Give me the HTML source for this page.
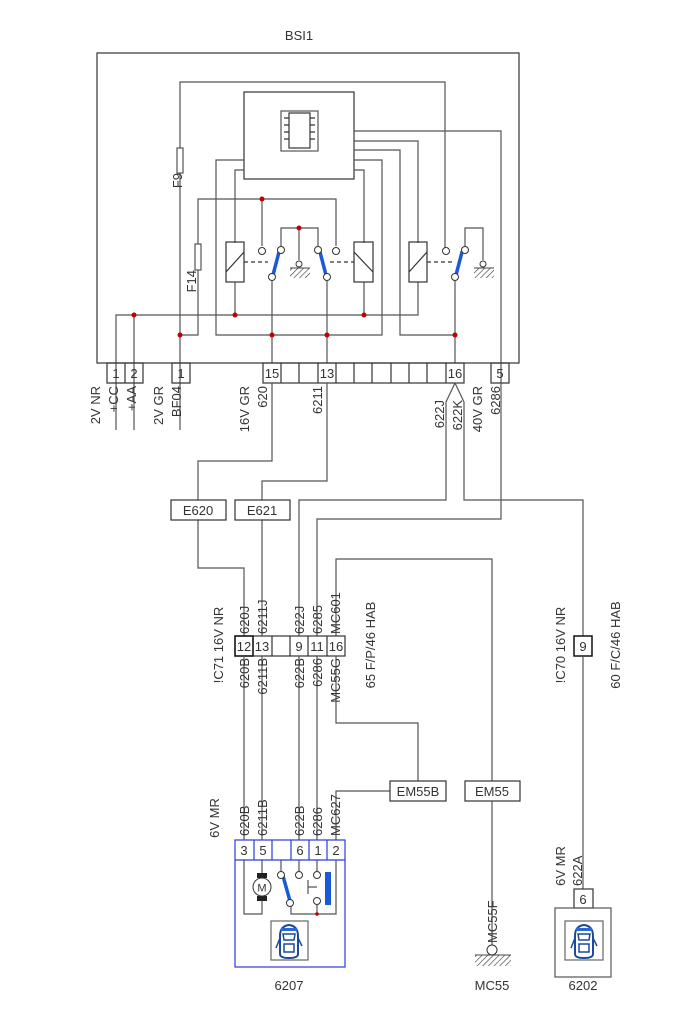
<!DOCTYPE html>
<html><head><meta charset="utf-8"><style>
html,body{margin:0;padding:0;background:#fff}
svg{display:block}
text{font-family:"Liberation Sans",sans-serif;font-size:13px;fill:#333}
</style></head><body>
<svg width="700" height="1020" viewBox="0 0 700 1020" xmlns="http://www.w3.org/2000/svg">
<defs>
<pattern id="h" width="4" height="4" patternUnits="userSpaceOnUse" patternTransform="rotate(45)">
<line x1="0" y1="0" x2="0" y2="4" stroke="#333" stroke-width="1.2"/></pattern>
<g id="car">
<path d="M-9,14 L-9,-4 Q-9,-14 0,-15 Q9,-14 9,-4 L9,14 Q9,18 0,18 Q-9,18 -9,14 Z" fill="#fff" stroke="#1a4a9a" stroke-width="2"/>
<path d="M-6,-6 L6,-6 L5,0 L-5,0 Z M-5,4 L5,4 L5,12 L-5,12 Z" fill="none" stroke="#1a4a9a" stroke-width="1.5"/>
<path d="M-9,-2 L-13,8 M9,-2 L13,6" stroke="#1a4a9a" stroke-width="1.5"/>
<rect x="-8" y="-12" width="16" height="3" fill="#2a6ad0"/>
</g>
</defs>
<g fill="none" stroke="#555" stroke-width="1.2">
<rect x="97" y="53" width="422" height="310" stroke="#333"/>
<rect x="244" y="92" width="110" height="87" stroke="#333"/>
<rect x="281" y="111" width="37" height="40" stroke="#555"/>
<rect x="289" y="113" width="21" height="35" stroke="#333"/>
<path d="M284,118h5M284,125h5M284,132h5M284,139h5M310,118h5M310,125h5M310,132h5M310,139h5" stroke="#333"/>
<path d="M180,430V82H445V250"/>
<rect x="177" y="148" width="6" height="25" fill="#fff"/>
<path d="M354,131H501V383"/>
<path d="M354,141H418V243M418,282V315H116V430M134,315V430"/>
<path d="M354,150H400V335H455"/>
<path d="M244,160H216V335H382V160H354"/>
<path d="M244,170H235V243M235,282V315"/>
<path d="M354,170H364V243M364,282V315"/>
<path d="M180,335H198V199H336V246M262,199V246"/>
<rect x="195" y="244" width="6" height="26" fill="#fff"/>
<rect x="226" y="242" width="18" height="40" stroke="#333"/><path d="M226,272L244,252" stroke="#333"/>
<rect x="354" y="242" width="19" height="40" stroke="#333"/><path d="M354,252L373,272" stroke="#333"/>
<rect x="409" y="242" width="18" height="40" stroke="#333"/><path d="M409,272L427,252" stroke="#333"/>
<path d="M244,262H268M330,262H354M427,262H452" stroke-dasharray="4,3" stroke="#333"/>
<path d="M281,246V228H318V246M299,228V260"/>
<path d="M272,281V363M327,281V363M455,281V363"/>
<path d="M465,246V228H483V260"/>
<path d="M107,363h18v20h-18zM125,363h18v20h-18zM172,363h18v20h-18zM491,363h18v20h-18z" stroke="#333"/>
<rect x="263" y="363" width="201" height="20" stroke="#333"/>
<path d="M281,363v20M299,363v20M318,363v20M336,363v20M354,363v20M372,363v20M391,363v20M409,363v20M427,363v20M446,363v20" stroke="#333"/>
<path d="M272,383V461H198V568H244V636"/>
<path d="M327,383V481H262V636"/>
<path d="M455,383L446,402V500H299V636M455,383L464,402V500H583V636"/>
<path d="M501,383V519H317V636"/>
<path d="M336,636V559H492V781"/>
<rect x="171" y="500" width="55" height="20" fill="#fff" stroke="#333"/>
<rect x="235" y="500" width="55" height="20" fill="#fff" stroke="#333"/>
<rect x="235" y="636" width="110" height="20" stroke="#333"/>
<path d="M253,636v20M272,636v20M290,636v20M308,636v20M327,636v20" stroke="#333"/>
<rect x="235" y="636" width="18" height="20" stroke="#111" stroke-width="1.5"/>
<path d="M244,656V840M262,656V840M299,656V840M317,656V840"/>
<path d="M336,656V723H418V781"/>
<path d="M336,840V791H390"/>
<rect x="390" y="781" width="56" height="20" stroke="#333"/>
<rect x="465" y="781" width="55" height="20" stroke="#333"/>
<path d="M492,801V945"/>
<rect x="574" y="636" width="18" height="20" stroke="#111" stroke-width="1.5"/>
<path d="M583,656V889"/>
<path d="M244,860V914H262V860M281,860V871M299,860V871M317,860V871M336,860V914H291V906M317,914V905"/>
<path d="M308,887H317M308,880V894"/>
<rect x="271" y="921" width="37" height="39" stroke="#666"/>
<rect x="574" y="889" width="19" height="19" stroke="#333"/>
<rect x="555" y="908" width="56" height="69" stroke="#555"/>
<rect x="565" y="921" width="38" height="39" stroke="#666"/>
</g>
<g fill="none" stroke="#2a3ae0" stroke-width="1.2">
<rect x="235" y="840" width="110" height="127"/>
<path d="M235,860H345M254,840v20M272,840v20M291,840v20M309,840v20M327,840v20"/>
</g>
<rect x="290" y="268" width="20" height="10" fill="url(#h)"/><path d="M290,268H310" stroke="#444"/>
<rect x="474" y="268" width="20" height="10" fill="url(#h)"/><path d="M474,268H494" stroke="#444"/>
<rect x="475" y="955" width="36" height="11" fill="url(#h)"/><path d="M475,955H511" stroke="#444"/>
<g stroke="#1a5ad8" stroke-width="3.5" stroke-linecap="round">
<path d="M273,275L279,252M326,275L320,252M456,275L462,252M283,876L290,901"/>
</g>
<rect x="325" y="872" width="6" height="33" fill="#1a5ad8"/>
<rect x="257" y="873" width="10" height="5" fill="#222"/><rect x="257" y="896" width="10" height="5" fill="#222"/>
<circle cx="262" cy="887" r="9" fill="#fff" stroke="#333"/>
<text x="262" y="891.5" text-anchor="middle" style="font-size:11px">M</text>
<g fill="#fff" stroke="#333" stroke-width="1">
<circle cx="262" cy="251" r="3.5"/><circle cx="281" cy="250" r="3.5"/><circle cx="272" cy="277" r="3.5"/>
<circle cx="299" cy="264" r="3"/><circle cx="318" cy="250" r="3.5"/><circle cx="327" cy="277" r="3.5"/>
<circle cx="336" cy="251" r="3.5"/><circle cx="446" cy="251" r="3.5"/><circle cx="455" cy="277" r="3.5"/>
<circle cx="465" cy="250" r="3.5"/><circle cx="483" cy="264" r="3"/>
<circle cx="281" cy="875" r="3.5"/><circle cx="290" cy="903" r="3.5"/><circle cx="299" cy="875" r="3.5"/>
<circle cx="317" cy="875" r="3.5"/><circle cx="317" cy="901" r="3.5"/>
<circle cx="492" cy="950" r="5"/>
</g>
<g fill="#c00000">
<circle cx="262" cy="199" r="2.5"/><circle cx="299" cy="228" r="2.5"/>
<circle cx="134" cy="315" r="2.5"/><circle cx="235" cy="315" r="2.5"/><circle cx="364" cy="315" r="2.5"/>
<circle cx="180" cy="335" r="2.5"/><circle cx="272" cy="335" r="2.5"/><circle cx="327" cy="335" r="2.5"/><circle cx="455" cy="335" r="2.5"/>
<circle cx="317" cy="914" r="1.8"/>
</g>
<use href="#car" x="289" y="940"/>
<use href="#car" x="584" y="940"/>
<text x="299" y="40" text-anchor="middle">BSI1</text>
<g text-anchor="middle">
<text x="116" y="378">1</text><text x="134" y="378">2</text><text x="181" y="378">1</text>
<text x="272" y="378">15</text><text x="327" y="378">13</text><text x="455" y="378">16</text><text x="500" y="378">5</text>
<text x="198" y="515">E620</text><text x="262" y="515">E621</text>
<text x="244" y="651">12</text><text x="262" y="651">13</text><text x="299" y="651">9</text><text x="317" y="651">11</text><text x="336" y="651">16</text>
<text x="583" y="651">9</text>
<text x="418" y="796">EM55B</text><text x="492" y="796">EM55</text>
<text x="244" y="855">3</text><text x="263" y="855">5</text><text x="300" y="855">6</text><text x="318" y="855">1</text><text x="336" y="855">2</text>
<text x="583" y="904">6</text>
<text x="289" y="990">6207</text><text x="492" y="990">MC55</text><text x="583" y="990">6202</text>
</g>
<g text-anchor="end">
<text transform="translate(182,173) rotate(-90)">F9</text>
<text transform="translate(196,270) rotate(-90)">F14</text>
<text transform="translate(100,386) rotate(-90)">2V NR</text>
<text transform="translate(118,386) rotate(-90)">+CC</text>
<text transform="translate(136,386) rotate(-90)">+AA</text>
<text transform="translate(163,386) rotate(-90)">2V GR</text>
<text transform="translate(181,386) rotate(-90)">BF04</text>
<text transform="translate(249,386) rotate(-90)">16V GR</text>
<text transform="translate(267,386) rotate(-90)">620</text>
<text transform="translate(322,386) rotate(-90)">6211</text>
<text transform="translate(444,400) rotate(-90)">622J</text>
<text transform="translate(462,400) rotate(-90)">622K</text>
<text transform="translate(482,386) rotate(-90)">40V GR</text>
<text transform="translate(500,386) rotate(-90)">6286</text>
</g>
<g text-anchor="start">
<text transform="translate(249,634) rotate(-90)">620J</text>
<text transform="translate(267,634) rotate(-90)">6211J</text>
<text transform="translate(304,634) rotate(-90)">622J</text>
<text transform="translate(322,634) rotate(-90)">6285</text>
<text transform="translate(340,634) rotate(-90)">MC601</text>
<text transform="translate(249,836) rotate(-90)">620B</text>
<text transform="translate(267,836) rotate(-90)">6211B</text>
<text transform="translate(304,836) rotate(-90)">622B</text>
<text transform="translate(322,836) rotate(-90)">6286</text>
<text transform="translate(340,836) rotate(-90)">MC627</text>
<text transform="translate(582,886) rotate(-90)">622A</text>
<text transform="translate(497,943) rotate(-90)">MC55F</text>
</g>
<g text-anchor="end">
<text transform="translate(249,658) rotate(-90)">620B</text>
<text transform="translate(267,658) rotate(-90)">6211B</text>
<text transform="translate(304,658) rotate(-90)">622B</text>
<text transform="translate(322,658) rotate(-90)">6286</text>
<text transform="translate(340,658) rotate(-90)">MC55G</text>
</g>
<g text-anchor="middle">
<text transform="translate(223,645) rotate(-90)">!C71  16V NR</text>
<text transform="translate(375,645) rotate(-90)">65 F/P/46 HAB</text>
<text transform="translate(565,645) rotate(-90)">!C70  16V NR</text>
<text transform="translate(620,645) rotate(-90)">60 F/C/46 HAB</text>
<text transform="translate(219,818) rotate(-90)">6V MR</text>
<text transform="translate(565,866) rotate(-90)">6V MR</text>
</g>
</svg>
</body></html>
